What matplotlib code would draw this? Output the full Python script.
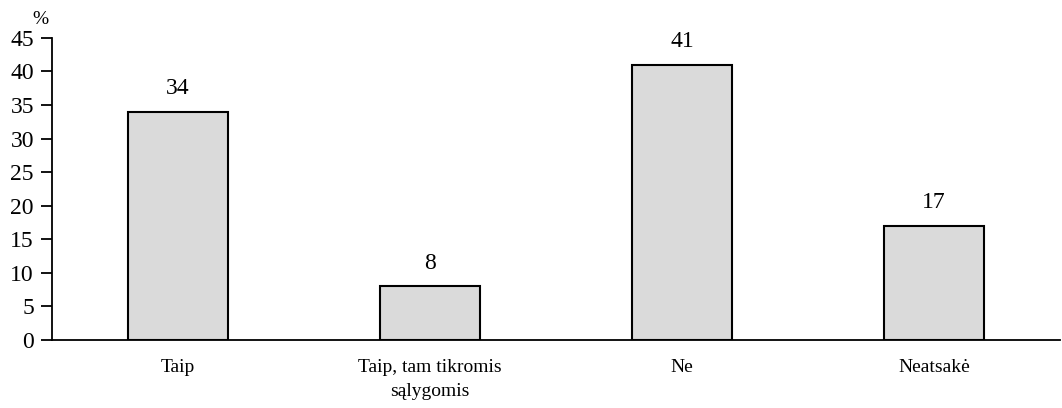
import matplotlib
matplotlib.use('Agg')
import matplotlib.pyplot as plt

categories = ['Taip', 'Taip, tam tikromis\nsąlygomis', 'Ne', 'Neatsakė']
values = [34, 8, 41, 17]
yticks = [0, 5, 10, 15, 20, 25, 30, 35, 40, 45]

plt.rcParams['font.family'] = ['Liberation Serif', 'DejaVu Serif']

fig = plt.figure(figsize=(10.62, 4.08), dpi=100)
ax = fig.add_axes([0.049, 0.167, 0.949, 0.74])

x = range(len(categories))
ax.bar(x, values, width=0.4, color='#dadada', edgecolor='black', linewidth=1.5)

# value labels above bars
for xi, v in zip(x, values):
    ax.annotate(str(v), (xi, v), xytext=(0, 9), textcoords='offset points',
                ha='center', va='bottom', fontsize=17)

ax.set_xlim(-0.5, 3.5)
ax.set_ylim(0, 45)
ax.set_yticks(yticks)
ax.set_xticks(list(x))
ax.set_xticklabels(categories, fontsize=14, linespacing=1.5)
ax.tick_params(axis='x', length=0, pad=14)
ax.tick_params(axis='y', labelsize=17, length=8, width=1.3, direction='out', pad=5)

for side in ['top', 'right']:
    ax.spines[side].set_visible(False)
for side in ['left', 'bottom']:
    ax.spines[side].set_linewidth(1.3)

fig.text(0.038, 0.951, '%', fontsize=14, ha='center', va='center')

fig.savefig('out.png', dpi=100)
